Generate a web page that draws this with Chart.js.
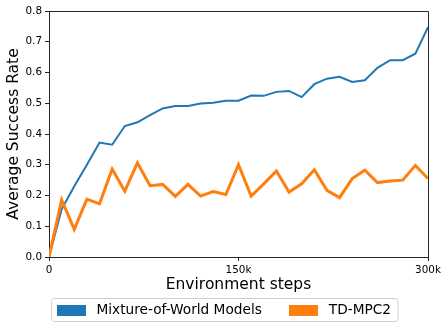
<!DOCTYPE html>
<html>
<head>
<meta charset="utf-8">
<script src="https://cdn.jsdelivr.net/npm/chart.js@4.4.0/dist/chart.umd.min.js"></script>
<style>
  html, body { margin: 0; padding: 0; background: #fff; }
  #wrap { width: 448px; height: 330px; }
</style>
</head>
<body>
<div id="wrap"><canvas id="c" width="448" height="330"></canvas></div>
<script>
// ---- data ----
const steps = [0, 10000, 20000, 30000, 40000, 50000, 60000, 70000, 80000, 90000,
  100000, 110000, 120000, 130000, 140000, 150000, 160000, 170000, 180000, 190000,
  200000, 210000, 220000, 230000, 240000, 250000, 260000, 270000, 280000, 290000, 300000];
const mowmValues = [0, 0.155, 0.23, 0.30, 0.372, 0.365, 0.426, 0.438, 0.461, 0.483,
  0.491, 0.491, 0.499, 0.502, 0.508, 0.508, 0.525, 0.524, 0.537, 0.540,
  0.520, 0.562, 0.580, 0.586, 0.569, 0.575, 0.615, 0.640, 0.640, 0.661, 0.747];
const tdmpcValues = [0, 0.186, 0.09, 0.188, 0.173, 0.286, 0.214, 0.306, 0.232, 0.236,
  0.197, 0.236, 0.198, 0.213, 0.203, 0.300, 0.198, 0.238, 0.280, 0.211,
  0.238, 0.284, 0.217, 0.193, 0.255, 0.282, 0.242, 0.247, 0.250, 0.298, 0.255];
const seriesLabels = ['Mixture-of-World Models', 'TD-MPC2'];
const xTickValues = [0, 150000, 300000];
const xTickLabels = ['0', '150k', '300k'];
const yTickValues = [0, 0.1, 0.2, 0.3, 0.4, 0.5, 0.6, 0.7, 0.8];
const yTickLabels = ['0.0', '0.1', '0.2', '0.3', '0.4', '0.5', '0.6', '0.7', '0.8'];

const FONT = '"DejaVu Sans", Verdana, sans-serif';
Chart.defaults.color = '#000';
Chart.defaults.font.family = FONT;

const toPts = (xs, ys) => xs.map((x, i) => ({ x: x, y: ys[i] }));

const framePlugin = {
  id: 'frameAndLegend',
  afterDraw(chart) {
    const ctx = chart.ctx;
    const ca = chart.chartArea;
    ctx.save();
    // top and right spines
    ctx.strokeStyle = '#262626';
    ctx.lineWidth = 1;
    const l = Math.round(ca.left) + 0.5, r = Math.round(ca.right) + 0.5;
    const t = Math.round(ca.top) + 0.5, b = Math.round(ca.bottom) + 0.5;
    ctx.beginPath();
    ctx.moveTo(l, t); ctx.lineTo(r, t); ctx.lineTo(r, b);
    ctx.stroke();

    // legend (matplotlib style, below the axes)
    ctx.font = '13.7px ' + FONT;
    const ds = chart.data.datasets;
    const patchW = 29, patchH = 11, gapText = 11, gapItem = 27, padX = 5;
    const widths = ds.map(d => ctx.measureText(d.label).width);
    let total = 0;
    ds.forEach((d, i) => { total += patchW + gapText + widths[i]; if (i < ds.length - 1) total += gapItem; });
    const boxW = total + padX * 2 + 2;
    const cx = chart.width / 2;
    const bx = Math.round(cx - boxW / 2) + 0.5, by = 298.5, bh = 23;
    // rounded frame
    const rad = 3;
    ctx.beginPath();
    ctx.moveTo(bx + rad, by);
    ctx.lineTo(bx + boxW - rad, by);
    ctx.arcTo(bx + boxW, by, bx + boxW, by + rad, rad);
    ctx.lineTo(bx + boxW, by + bh - rad);
    ctx.arcTo(bx + boxW, by + bh, bx + boxW - rad, by + bh, rad);
    ctx.lineTo(bx + rad, by + bh);
    ctx.arcTo(bx, by + bh, bx, by + bh - rad, rad);
    ctx.lineTo(bx, by + rad);
    ctx.arcTo(bx, by, bx + rad, by, rad);
    ctx.closePath();
    ctx.fillStyle = 'rgba(255,255,255,0.8)';
    ctx.fill();
    ctx.strokeStyle = '#d0d0d0';
    ctx.stroke();
    let x = bx + padX;
    const midY = by + bh / 2;
    ds.forEach((d, i) => {
      ctx.fillStyle = d.borderColor;
      ctx.fillRect(Math.round(x), Math.round(midY - patchH / 2), patchW, patchH);
      x += patchW + gapText;
      ctx.fillStyle = '#000';
      ctx.textBaseline = 'middle';
      ctx.textAlign = 'left';
      ctx.fillText(d.label, x, midY + 0.5);
      x += widths[i] + gapItem;
    });
    ctx.restore();
  }
};

new Chart(document.getElementById('c'), {
  type: 'line',
  data: {
    datasets: [
      {
        label: seriesLabels[0],
        data: toPts(steps, mowmValues),
        borderColor: '#1f77b4',
        backgroundColor: '#1f77b4',
        borderWidth: 2,
        pointRadius: 0,
        tension: 0,
        order: 1
      },
      {
        label: seriesLabels[1],
        data: toPts(steps, tdmpcValues),
        borderColor: '#ff7f0e',
        backgroundColor: '#ff7f0e',
        borderWidth: 3,
        pointRadius: 0,
        tension: 0,
        order: 0
      }
    ]
  },
  options: {
    responsive: false,
    animation: false,
    events: [],
    layout: { padding: { top: 11, right: 20, bottom: 34, left: 0 } },
    plugins: {
      legend: { display: false },
      tooltip: { enabled: false },
      title: { display: false }
    },
    scales: {
      x: {
        type: 'linear',
        min: 0,
        max: 300000,
        afterBuildTicks: (scale) => { scale.ticks = xTickValues.map(v => ({ value: v })); },
        afterFit: (scale) => { scale.height = 39; },
        ticks: {
          autoSkip: false,
          maxRotation: 0,
          padding: 3,
          font: { size: 10.4, family: FONT },
          color: '#000',
          callback: (v) => { const i = xTickValues.indexOf(v); return i >= 0 ? xTickLabels[i] : ''; }
        },
        grid: { drawOnChartArea: false, drawTicks: true, tickLength: 4, color: '#262626', tickWidth: 1 },
        border: { display: true, color: '#262626', width: 1 },
        title: {
          display: true,
          text: 'Environment steps',
          font: { size: 15.5, family: FONT },
          color: '#000',
          padding: { top: 0, bottom: 2 }
        }
      },
      y: {
        type: 'linear',
        min: 0,
        max: 0.8,
        afterBuildTicks: (scale) => { scale.ticks = yTickValues.map(v => ({ value: v })); },
        afterFit: (scale) => { scale.width = 49; },
        ticks: {
          autoSkip: false,
          padding: 3,
          font: { size: 10.4, family: FONT },
          color: '#000',
          callback: (v) => { const i = yTickValues.findIndex(t => Math.abs(t - v) < 1e-9); return i >= 0 ? yTickLabels[i] : ''; }
        },
        grid: { drawOnChartArea: false, drawTicks: true, tickLength: 4, color: '#262626', tickWidth: 1 },
        border: { display: true, color: '#262626', width: 1 },
        title: {
          display: true,
          text: 'Average Success Rate',
          font: { size: 15.5, family: FONT },
          color: '#000',
          padding: { top: 5, bottom: 0 }
        }
      }
    }
  },
  plugins: [framePlugin]
});
</script>
</body>
</html>
